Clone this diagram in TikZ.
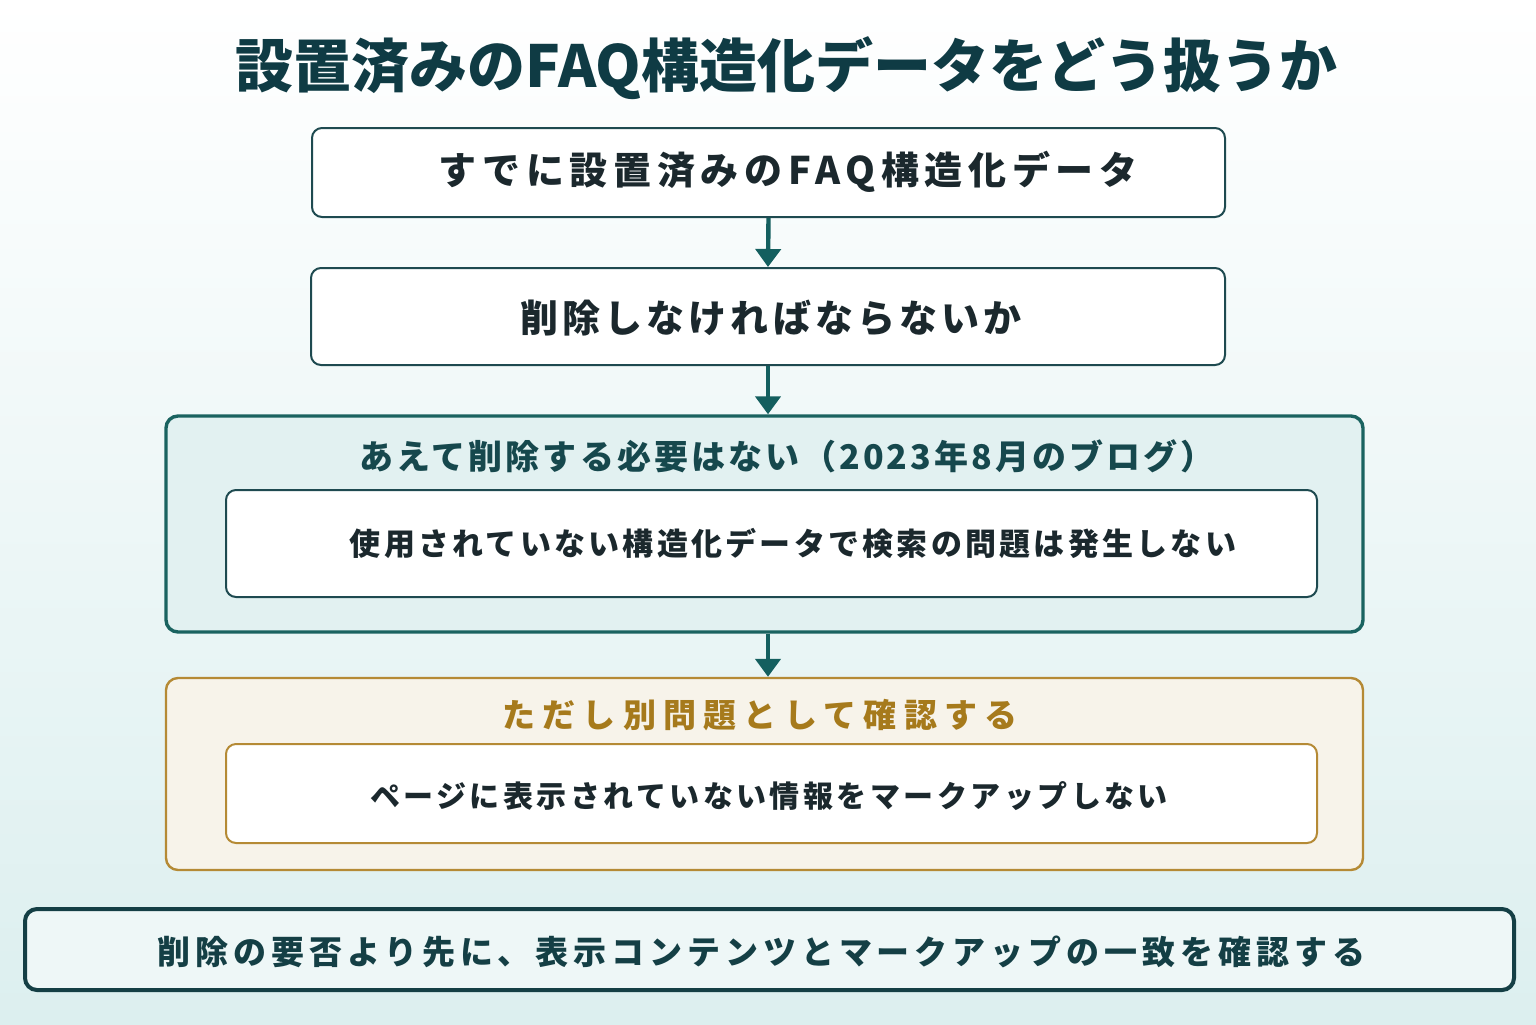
\documentclass[tikz,border=0pt]{standalone}
\usepackage{fontspec}
\setmainfont{Noto Sans CJK JP}
\usetikzlibrary{arrows.meta,positioning}

\definecolor{bgbot}{HTML}{DCEFEF}
\definecolor{titlecol}{HTML}{0F3B44}
\definecolor{textdark}{HTML}{1B282D}
\definecolor{arrowcol}{HTML}{145F5F}
\definecolor{linedark}{HTML}{1E4A50}
\definecolor{linethree}{HTML}{1A6360}
\definecolor{fillthree}{HTML}{E2F1F1}
\definecolor{headteal}{HTML}{16484D}
\definecolor{goldline}{HTML}{B58A35}
\definecolor{goldtext}{HTML}{A67A1C}
\definecolor{cream}{HTML}{F7F3EA}
\definecolor{botline}{HTML}{143F45}
\definecolor{botfill}{HTML}{EEF7F7}

\newcommand{\jpfont}[2]{\bfseries\addfontfeature{LetterSpace=#2}\fontsize{#1}{#1}\selectfont}

\begin{document}
\begin{tikzpicture}[
  x=0.5pt,y=-0.5pt,
  flow/.style={-{Triangle[width=12.5pt,length=9pt]},line width=2.2pt,draw=arrowcol},
  stepbox/.style={draw=linedark,line width=1pt,rounded corners=5pt,fill=white,inner sep=0pt},
  outerbox/.style={rounded corners=6pt,inner sep=0pt},
  txt/.style={inner sep=0pt,anchor=center},
]

\shade[top color=white,bottom color=bgbot] (0,0) rectangle (1536,1024);
\useasboundingbox (0,0) rectangle (1536,1024);

\node[txt,text=titlecol] (title) at (786.5,68) {\jpfont{29}{0}設置済みのFAQ構造化データをどう扱うか};

\node[stepbox,minimum width=456.5pt,minimum height=44.5pt] (box1) at (768.5,172.5) {};
\node[txt,text=textdark] (t1) at (788,172) {\jpfont{19}{15}すでに設置済みのFAQ構造化データ};

\node[stepbox,minimum width=457pt,minimum height=48.5pt] (box2) at (768,316.5) {};
\node[txt,text=textdark] (t2) at (771,318) {\jpfont{19}{11}削除しなければならないか};

\node[outerbox,draw=linethree,line width=1.7pt,fill=fillthree,
  minimum width=598.5pt,minimum height=108pt] (out3) at (764.5,524) {};
\node[txt,text=headteal] (h3) at (787,456) {\jpfont{17}{9}あえて削除する必要はない（2023年8月のブログ）};
\node[stepbox,minimum width=545.5pt,minimum height=53.5pt] (in3) at (771.5,543.5) {};
\node[txt,text=textdark] (t3) at (793,543) {\jpfont{15.5}{10.5}使用されていない構造化データで検索の問題は発生しない};

\node[outerbox,draw=goldline,line width=1.2pt,fill=cream,
  minimum width=598.5pt,minimum height=96pt] (out4) at (764.5,774) {};
\node[txt,text=goldtext] (h4) at (760,715) {\jpfont{16.5}{22}ただし別問題として確認する};
\node[stepbox,draw=goldline,minimum width=545.5pt,minimum height=49.5pt] (in4) at (771.5,793.5) {};
\node[txt,text=textdark] (t4) at (769,796) {\jpfont{15}{11.5}ページに表示されていない情報をマークアップしない};

\node[outerbox,draw=botline,line width=2pt,fill=botfill,
  minimum width=744.5pt,minimum height=40.5pt] (bot) at (769.5,949.5) {};
\node[txt,text=botline] (t5) at (761.5,952) {\jpfont{16.5}{15}削除の要否より先に、表示コンテンツとマークアップの一致を確認する};

\draw[flow] (box1.south) -- (box2.north);
\draw[flow] (box2.south) -- (out3.north -| box2.south);
\draw[flow] (out3.south -| box2.south) -- (out4.north -| box2.south);

\end{tikzpicture}
\end{document}
